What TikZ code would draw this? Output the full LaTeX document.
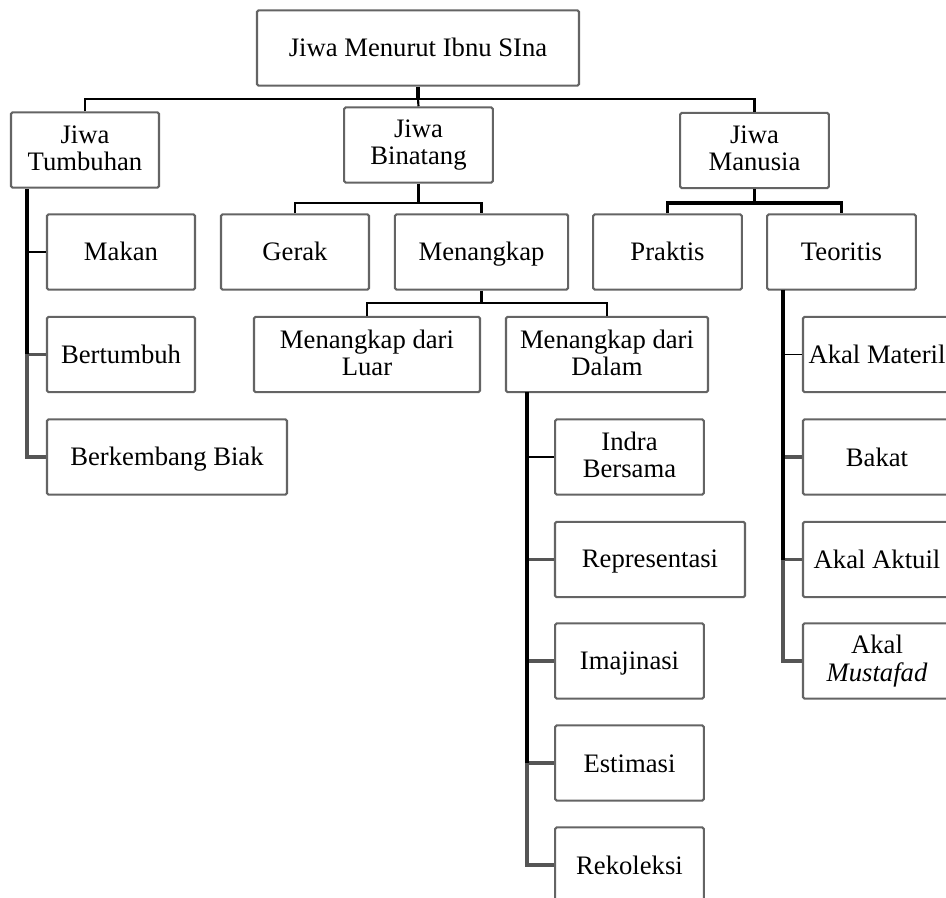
\documentclass[tikz,border=0pt]{standalone}
\usepackage{fontspec}
\setmainfont{Liberation Serif}
\newcommand\boxstrut{\rule[-3pt]{0pt}{19.5pt}}
\begin{document}
\begin{tikzpicture}[x=0.75pt,y=-0.75pt,
  box/.style={draw={rgb,255:red,100;green,100;blue,100}, line width=1.6pt,
    rounded corners=1.2pt, fill=white, inner sep=0pt, align=center,
    minimum height=56.5pt, font=\fontsize{20}{20.5}\selectfont,
    execute at begin node=\boxstrut, execute at end node=\boxstrut},
  bus/.style={draw=black, line width=1.6pt},
  trunk/.style={draw=black, line width=2.4pt},
  tail/.style={draw={rgb,255:red,85;green,85;blue,85}, line width=2.4pt},
  stub/.style={draw=black, line width=1.3pt}]
\useasboundingbox (0,0) rectangle (946,898);
\clip (0,0) rectangle (946,898);

% level 0 and 1
\node[box, minimum width=241.5pt] (root) at (418,48) {Jiwa Menurut Ibnu SIna};
\node[box, minimum width=111pt] (tum) at (85,150) {Jiwa\\Tumbuhan};
\node[box, minimum width=111.5pt] (bin) at (418.5,145) {Jiwa\\Binatang};
\node[box, minimum width=111.5pt] (man) at (754.5,150.5) {Jiwa\\Manusia};

% Jiwa Tumbuhan
\node[box, minimum width=111pt] (makan) at (121,252) {Makan};
\node[box, minimum width=111pt] (tumbuh) at (121,354.5) {Bertumbuh};
\node[box, minimum width=180pt] (biak) at (167,457) {Berkembang Biak};

% Jiwa Binatang
\node[box, minimum width=111pt] (gerak) at (295,252) {Gerak};
\node[box, minimum width=130pt] (tangkap) at (481.5,252) {Menangkap};
\node[box, minimum width=169.5pt] (luar) at (367,354.5) {Menangkap dari\\Luar};
\node[box, minimum width=151.5pt] (dalam) at (607,354.5) {Menangkap dari\\Dalam};
\node[box, minimum width=111.5pt] (indra) at (629.5,457) {Indra\\Bersama};
\node[box, minimum width=142.5pt] (repr) at (650,559.5) {Representasi};
\node[box, minimum width=111.5pt] (imaj) at (629.5,661) {Imajinasi};
\node[box, minimum width=111.5pt] (esti) at (629.5,763) {Estimasi};
\node[box, minimum width=111.5pt] (reko) at (629.5,865) {Rekoleksi};

% Jiwa Manusia
\node[box, minimum width=111.5pt] (prak) at (667.5,252) {Praktis};
\node[box, minimum width=111.5pt] (teor) at (841.5,252) {Teoritis};
\node[box, minimum width=111pt] (materil) at (877,354.5) {Akal Materil};
\node[box, minimum width=111pt] (bakat) at (877,457) {Bakat};
\node[box, minimum width=111pt] (aktuil) at (877,559.5) {Akal Aktuil};
\node[box, minimum width=111pt] (mustafad) at (877,661) {Akal\\\textit{Mustafad}};

% bus from the root
\coordinate (rbus) at (418,99);
\draw[line width=3pt] (root.south) -- (rbus);
\draw[bus] (tum.north) -- (tum.north |- rbus) -- (man.north |- rbus) -- (man.north);
\draw[bus] (rbus) -- (bin.north);

% bus under Jiwa Binatang
\coordinate (bbus) at (418.5,203);
\draw[bus] (bin.south) -- (bbus);
\draw[bus] (gerak.north) -- (gerak.north |- bbus) -- (tangkap.north |- bbus) -- (tangkap.north);

% bus under Jiwa Manusia
\coordinate (mbus) at (754.5,203);
\draw[line width=2.6pt] (man.south) -- (mbus);
\draw[line width=2.6pt] (prak.north) -- (prak.north |- mbus) -- (teor.north |- mbus) -- (teor.north);

% bus under Menangkap
\coordinate (kbus) at (481.5,303);
\draw[line width=2pt] (tangkap.south) -- (kbus);
\draw[line width=2pt] (luar.north) -- (luar.north |- kbus) -- (dalam.north |- kbus) -- (dalam.north);

% trunk under Jiwa Tumbuhan
\coordinate (ttop) at (27,189);
\draw[tail] (ttop |- tumbuh.west) -- (ttop |- biak.west) -- (biak.west);
\draw[tail] (ttop |- tumbuh.west) -- (tumbuh.west);
\draw[trunk] (ttop) -- (ttop |- tumbuh.west);
\draw[stub] (ttop |- makan.west) -- (makan.west);

% trunk under Menangkap dari Dalam
\coordinate (dtop) at (527,392);
\draw[tail] (dtop |- esti.west) -- (dtop |- reko.west) -- (reko.west);
\draw[tail] (dtop |- repr.west) -- (repr.west);
\draw[tail] (dtop |- imaj.west) -- (imaj.west);
\draw[tail] (dtop |- esti.west) -- (esti.west);
\draw[trunk] (dtop) -- (dtop |- esti.west);
\draw[stub] (dtop |- indra.west) -- (indra.west);

% trunk under Teoritis
\coordinate (ktop) at (783,290);
\draw[tail] (ktop |- aktuil.west) -- (ktop |- mustafad.west) -- (mustafad.west);
\draw[tail] (ktop |- bakat.west) -- (bakat.west);
\draw[tail] (ktop |- aktuil.west) -- (aktuil.west);
\draw[trunk] (ktop) -- (ktop |- aktuil.west);
\draw[stub] (ktop |- materil.west) -- (materil.west);
\end{tikzpicture}
\end{document}
